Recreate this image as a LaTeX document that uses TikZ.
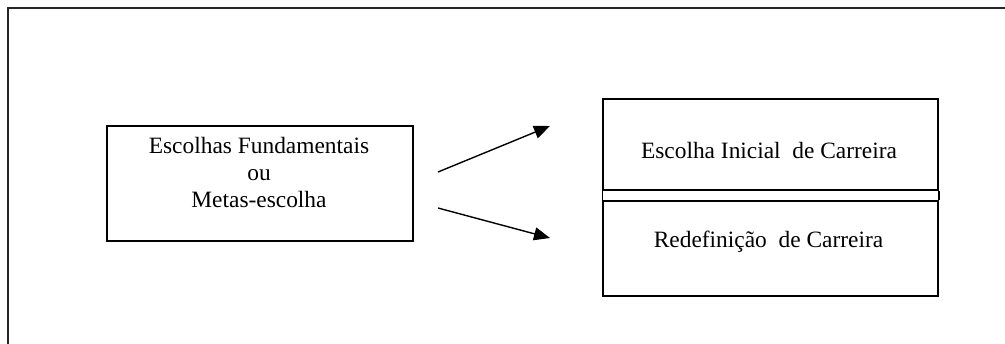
\documentclass[tikz,border=0pt]{standalone}
\usepackage{fontspec}
\setmainfont{Liberation Serif}
\usetikzlibrary{arrows.meta,positioning}
\tikzset{
  caixa/.style={
    rectangle, draw=black, line width=0.75pt,
    inner sep=0pt, fill=none
  },
  rotulo/.style={
    align=center, inner sep=0pt, text=black,
    font=\fontsize{11.7}{13.5}\selectfont
  },
  seta/.style={-{Triangle[length=8pt,width=6.5pt]}, line width=0.7pt, black}
}

\begin{document}
\begin{tikzpicture}[x=0.5pt, y=-0.5pt]
    \useasboundingbox (0,0) rectangle (1005,343);
    \clip (0,0) rectangle (1005,343);
    % moldura externa
    \draw[line width=0.75pt, black!85] (8,8) rectangle (1030,370);
    % caixa da esquerda
    \node[caixa, minimum width=153pt, minimum height=57.5pt] (fund) at (260,183.5) {};
    \node[rotulo] (fundtexto) at (259,172) {Escolhas Fundamentais\\ou\\Metas-escolha};
    % caixas da direita
    \node[caixa, minimum width=167.5pt, minimum height=45.5pt] (inicial) at (770.5,144.5) {};
    \node[caixa, minimum width=167.5pt, minimum height=47.5pt] (redef) at (770.5,248.5) {};
    \draw[line width=0.75pt] (inicial.south west) -- (redef.north west);
    \draw[line width=0.75pt] (inicial.south east) -- (redef.north east);
    \node[rotulo, anchor=base] (inicialtexto) at (769,158) {Escolha Inicial\ \ de Carreira};
    \node[rotulo, anchor=base] (redeftexto) at (768.5,247) {Redefinição\ \ de Carreira};
    % setas
    \coordinate (saida1) at (438,172);
    \coordinate (chegada1) at (550,126);
    \coordinate (saida2) at (438,208);
    \coordinate (chegada2) at (550,238);
    \draw[seta] (saida1) -- (chegada1);
    \draw[seta] (saida2) -- (chegada2);
\end{tikzpicture}
\end{document}
